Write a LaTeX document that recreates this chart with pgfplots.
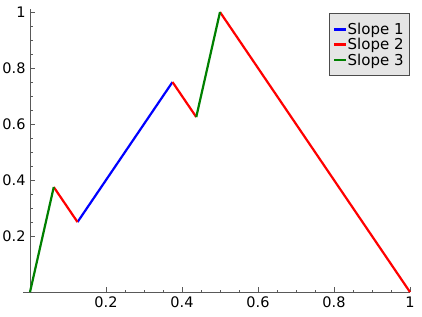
\documentclass[border=0pt]{standalone}
\usepackage{pgfplots}
\pgfplotsset{compat=1.18}
\usepackage{fontspec}
\setmainfont{DejaVu Sans}
\definecolor{sblue}{rgb}{0,0,1}
\definecolor{sred}{rgb}{1,0,0}
\definecolor{sgreen}{rgb}{0,0.5,0}
\begin{document}
\begin{tikzpicture}
\begin{axis}[
  scale only axis,
  width=386.8pt, height=282.8pt,
  xmin=-0.018, xmax=1, ymin=0, ymax=1.01,
  axis lines=middle,
  axis line style={draw=black!65, line width=0.8pt, -},
  tick align=inside,
  xtick={0.2,0.4,0.6,0.8,1},
  ytick={0.2,0.4,0.6,0.8,1},
  minor tick num=3,
  major tick length=5pt,
  minor tick length=2.5pt,
  every tick/.style={black!65, line width=0.7pt},
  xticklabels={0.2,0.4,0.6,0.8,1},
  yticklabels={0.2,0.4,0.6,0.8,1},
  ticklabel style={font=\fontsize{14.5}{16}\selectfont, text=black},
  xticklabel style={yshift=-1pt},
  yticklabel style={xshift=-1pt},
  clip=false,
  legend cell align=left,
  legend style={at={(axis cs:1,0.995)}, anchor=north east,
    fill=black!10, draw=black!70, line width=0.8pt,
    font=\fontsize{15}{15}\selectfont, row sep=-1.5pt,
    inner xsep=4pt, inner ysep=7pt},
  legend image code/.code={\fill[#1] (0,-0.8pt) rectangle (11pt,0.8pt);},
]
\addlegendimage{sblue}
\addlegendentry{Slope 1}
\addlegendimage{sred}
\addlegendentry{Slope 2}
\addlegendimage{sgreen}
\addlegendentry{Slope 3}
\addplot[sblue, line width=2.2pt, forget plot] coordinates {(0.125,0.25) (0.375,0.75)};
\addplot[sred, line width=2.2pt, forget plot] coordinates {(0.0625,0.375) (0.125,0.25)};
\addplot[sred, line width=2.2pt, forget plot] coordinates {(0.375,0.75) (0.4375,0.625)};
\addplot[sred, line width=2.2pt, forget plot] coordinates {(0.5,1) (1,0)};
\addplot[sgreen, line width=2.2pt, forget plot] coordinates {(0,0) (0.0625,0.375)};
\addplot[sgreen, line width=2.2pt, forget plot] coordinates {(0.4375,0.625) (0.5,1)};
\coordinate (bl) at (axis cs:-0.079,-0.0857);
\coordinate (tr) at (axis cs:1.0316,1.043);
\end{axis}
\pgfresetboundingbox
\path[use as bounding box] (bl) rectangle (tr);
\end{tikzpicture}
\end{document}
